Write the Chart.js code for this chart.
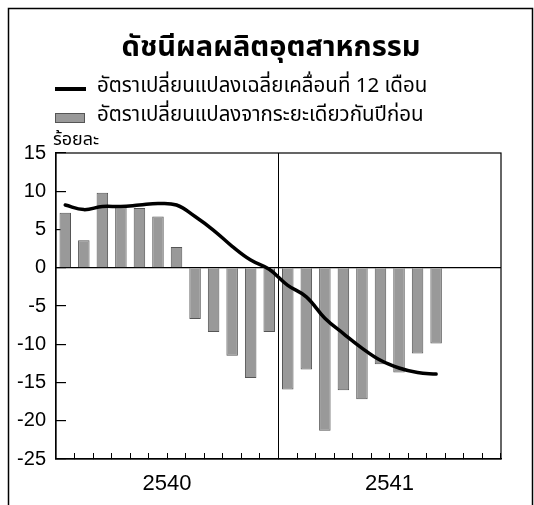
<!DOCTYPE html>
<html>
<head>
<meta charset="utf-8">
<script src="https://cdn.jsdelivr.net/npm/chart.js@4/dist/chart.umd.min.js"></script>
<style>
  html, body { margin: 0; padding: 0; background: #fff; }
  #wrap { width: 534px; height: 505px; }
</style>
</head>
<body>
<div id="wrap"><canvas id="ipiChart" width="534" height="505"></canvas></div>
<script>
// ---- datos ----
const meses = ['ม.ค.40','ก.พ.40','มี.ค.40','เม.ย.40','พ.ค.40','มิ.ย.40','ก.ค.40','ส.ค.40','ก.ย.40','ต.ค.40','พ.ย.40','ธ.ค.40',
               'ม.ค.41','ก.พ.41','มี.ค.41','เม.ย.41','พ.ค.41','มิ.ย.41','ก.ค.41','ส.ค.41','ก.ย.41','ต.ค.41','พ.ย.41','ธ.ค.41'];
const etiquetasAnio = ['2540', '2541'];
// อัตราเปลี่ยนแปลงจากระยะเดียวกันปีก่อน (barras)
const cambioAnual = [7.2, 3.6, 9.8, 7.9, 7.8, 6.7, 2.7, -6.7, -8.4, -11.5, -14.4, -8.4,
                     -15.9, -13.3, -21.3, -16.0, -17.2, -12.6, -13.7, -11.2, -9.9, null, null, null];
// อัตราเปลี่ยนแปลงเฉลี่ยเคลื่อนที่ 12 เดือน (línea)
const mediaMovil = [8.2, 7.6, 8.0, 8.0, 8.2, 8.4, 8.2, 6.7, 4.9, 2.8, 1.0, -0.2,
                    -2.3, -3.8, -6.6, -8.6, -10.5, -12.1, -13.1, -13.7, -13.9, null, null, null];
const ticksY = [15, 10, 5, 0, -5, -10, -15, -20, -25];

const fuenteNum = "'Liberation Sans', Arial, sans-serif";
const fuenteThai = "Tahoma, 'Noto Sans Thai', 'Liberation Sans', sans-serif";
const transparente = 'rgba(0,0,0,0)';

// Marco exterior, caja del área y textos (título, leyenda, unidad)
const decoracion = {
    id: 'decoracion',
    afterDraw(chart) {
        const ctx = chart.ctx;
        const a = chart.chartArea;
        ctx.save();
        ctx.strokeStyle = '#000';
        ctx.lineWidth = 1.5;
        ctx.beginPath();
        ctx.moveTo(8.5, 505); ctx.lineTo(8.5, 8.5); ctx.lineTo(532.5, 8.5); ctx.lineTo(532.5, 505);
        ctx.stroke();

        ctx.lineWidth = 1.2;
        ctx.strokeRect(a.left, a.top, a.right - a.left, a.bottom - a.top);

        ctx.fillStyle = '#000';
        ctx.textBaseline = 'middle';
        ctx.textAlign = 'center';
        ctx.font = "bold 29px " + fuenteThai;
        ctx.fillText('ดัชนีผลผลิตอุตสาหกรรม', 271, 50);

        ctx.textAlign = 'left';
        ctx.font = "20.5px " + fuenteThai;
        // leyenda: línea
        ctx.lineWidth = 4;
        ctx.beginPath(); ctx.moveTo(55, 89); ctx.lineTo(86, 89); ctx.stroke();
        ctx.fillText('อัตราเปลี่ยนแปลงเฉลี่ยเคลื่อนที่ 12 เดือน', 97, 88);
        // leyenda: barra
        ctx.fillStyle = '#999999';
        ctx.fillRect(55, 113, 30, 9);
        ctx.strokeStyle = '#555';
        ctx.lineWidth = 1;
        ctx.strokeRect(55.5, 113.5, 29, 9);
        ctx.fillStyle = '#000';
        ctx.fillText('อัตราเปลี่ยนแปลงจากระยะเดียวกันปีก่อน', 97, 117);

        ctx.font = "18px " + fuenteThai;
        ctx.fillText('ร้อยละ', 53, 141);
        ctx.restore();
    }
};

const ctxIpi = document.getElementById('ipiChart').getContext('2d');
window.graficoIpi = new Chart(ctxIpi, {
    data: {
        labels: meses,
        datasets: [
            {
                type: 'line',
                label: 'อัตราเปลี่ยนแปลงเฉลี่ยเคลื่อนที่ 12 เดือน',
                data: mediaMovil,
                borderColor: '#000',
                borderWidth: 3.5,
                pointRadius: 0,
                tension: 0.4,
                borderCapStyle: 'round',
                order: 0
            },
            {
                type: 'bar',
                label: 'อัตราเปลี่ยนแปลงจากระยะเดียวกันปีก่อน',
                data: cambioAnual,
                backgroundColor: '#999999',
                borderColor: '#555555',
                borderWidth: 1,
                categoryPercentage: 1,
                barPercentage: 0.62,
                order: 1
            }
        ]
    },
    options: {
        responsive: false,
        animation: false,
        layout: { padding: { left: 8, right: 33, top: 153, bottom: 6 } },
        plugins: {
            legend: { display: false },
            title: { display: false },
            tooltip: { enabled: false }
        },
        scales: {
            x: {
                offset: true,
                border: { color: '#000', width: 1.2 },
                grid: {
                    offset: true,
                    drawOnChartArea: true,
                    color: c => c.index === 12 ? '#000' : transparente,
                    tickColor: '#000',
                    tickLength: -6,
                    lineWidth: 1
                },
                ticks: {
                    autoSkip: false,
                    maxRotation: 0,
                    padding: 18,
                    labelOffset: 9,
                    color: '#000',
                    font: { size: 22, family: fuenteNum },
                    callback: (v, i) => i % 12 === 5 ? etiquetasAnio[Math.floor(i / 12)] : ''
                },
                afterFit: s => { s.height = 40; }
            },
            y: {
                min: -25,
                max: 15,
                afterBuildTicks: s => { s.ticks = ticksY.map(v => ({ value: v })); },
                border: { color: '#000', width: 1.2 },
                grid: {
                    color: c => (c.tick && c.tick.value === 0) ? '#000' : transparente,
                    tickColor: '#000',
                    tickLength: -10,
                    lineWidth: 1.2
                },
                ticks: {
                    padding: 20,
                    color: '#000',
                    font: { size: 20, family: fuenteNum }
                },
                afterFit: s => { s.width = 48; }
            }
        }
    },
    plugins: [decoracion]
});
</script>
</body>
</html>
